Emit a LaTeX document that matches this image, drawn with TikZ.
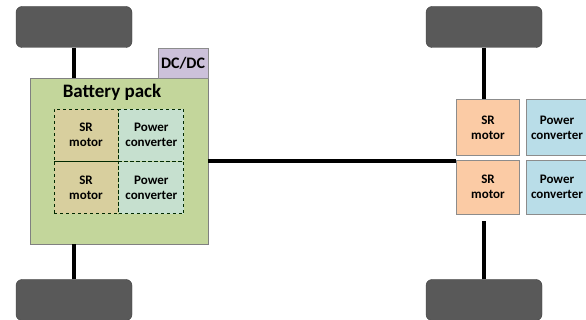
\documentclass[tikz,border=0pt]{standalone}
\usepackage{fontspec}
\setmainfont{Carlito}
\usepackage{xcolor}
\usetikzlibrary{positioning}
\definecolor{wheelgray}{HTML}{595959}
\definecolor{packgreen}{HTML}{C3D69B}
\definecolor{dclilac}{HTML}{CCC1DA}
\definecolor{motortan}{HTML}{D8CF9E}
\definecolor{convmint}{HTML}{C6E0CF}
\definecolor{motorpeach}{HTML}{FBCBA5}
\definecolor{convblue}{HTML}{B9DDE8}
\definecolor{txtdark}{HTML}{3A3A2A}

\begin{document}
\begin{tikzpicture}[x=1pt,y=-1pt,inner sep=0pt,font=\bfseries\color{txtdark}]
    \tikzstyle{wheel}=[draw=black!75, fill=wheelgray, rounded corners=6pt, minimum width=116pt, minimum height=41pt]
    \tikzstyle{axle}=[line width=4pt, black]
    \tikzstyle{cell}=[draw=black!60!green!40!black, dashed, thick, minimum width=64pt, minimum height=52pt, align=center, font=\fontsize{13}{15}\selectfont\bfseries]
    \tikzstyle{blk}=[draw=black!45, minimum width=63pt, minimum height=56pt, align=center, font=\fontsize{13}{15}\selectfont\bfseries]
        \useasboundingbox (0,0) rectangle (586,320);
        \clip (0,0) rectangle (586,320);
        % wheels
        \node[wheel] (wFL) at (74,27) {};
        \node[wheel] (wRL) at (74,300) {};
        \node[wheel] (wFR) at (484,27) {};
        \node[wheel] (wRR) at (484,300) {};
        % battery pack with the two front drives
        \node[draw=black!50, fill=packgreen, minimum width=178pt, minimum height=166pt] (bat) at (119,161) {};
        \node[draw=black!45, fill=dclilac, minimum width=50pt, minimum height=30pt, font=\fontsize{16}{18}\selectfont\bfseries] (dc) at (183,63) {DC/DC};
        \node[font=\fontsize{19}{22}\selectfont\bfseries] (batlbl) at (112,92) {Battery pack};
        \node[cell, fill=motortan] (sr1) at (86,135) {SR\\motor};
        \node[cell, fill=convmint, minimum width=65pt] (pc1) [right=0pt of sr1] {Power\\converter};
        \node[cell, fill=motortan] (sr2) [below=0pt of sr1] {SR\\motor};
        \node[cell, fill=convmint, minimum width=65pt] (pc2) [right=0pt of sr2] {Power\\converter};
        % rear drives
        \node[blk, fill=motorpeach] (sr3) at (488,127.5) {SR\\motor};
        \node[blk, fill=motorpeach, minimum height=54pt] (sr4) at (488,187) {SR\\motor};
        \node[blk, fill=convblue, minimum width=62pt] (pc3) at (557,127.5) {Power\\converter};
        \node[blk, fill=convblue, minimum width=62pt, minimum height=54pt] (pc4) at (557,187) {Power\\converter};

        \draw[axle] (wFL.south) -- (wFL.south |- bat.north);
        \draw[axle] (wRL.north) -- (wRL.north |- bat.south);
        \draw[axle] (wFR.south) -- (wFR.south |- sr3.north);
        \draw[axle] (wRR.north) -- ([yshift=-7pt]wRR.north |- sr4.south);
        \draw[axle] (bat.east) -- (bat.east -| sr3.west);
\end{tikzpicture}
\end{document}
